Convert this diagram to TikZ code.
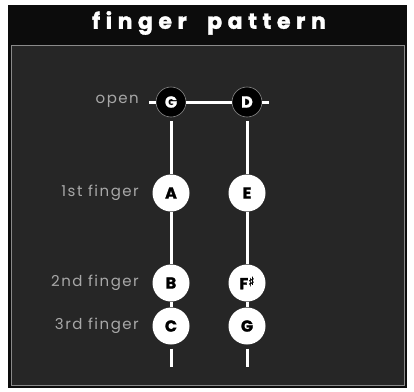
\documentclass[tikz,border=0pt]{standalone}
\usepackage{fontspec}
\setmainfont{Poppins}[BoldFont={Poppins Bold}]
\newfontfamily\titlefont[LetterSpace=25,WordSpace=2.0,FakeBold=1.6]{Poppins Bold}
\newfontfamily\notefont[FakeBold=1.4]{Poppins Bold}
\newfontfamily\labelfont[LetterSpace=10]{Poppins}
\newfontfamily\symfont[FakeBold=1.4]{DejaVu Sans}
\definecolor{bodygray}{HTML}{262626}
\definecolor{titleblack}{HTML}{0C0C0C}
\definecolor{labelgray}{HTML}{A8A8A8}
\definecolor{rimgray}{HTML}{8A8A8A}
\tikzset{
  topnote/.style={circle, fill=black, draw=rimgray, line width=0.6pt, minimum size=30pt, inner sep=0pt, text=white, font=\notefont\fontsize{16}{16}\selectfont},
  note/.style={circle, fill=white, minimum size=37pt, inner sep=0pt, text=black, font=\notefont\fontsize{16}{16}\selectfont},
  stringline/.style={white, line width=3pt},
  lbl/.style={anchor=east, text=labelgray, inner sep=0pt, font=\labelfont\fontsize{15}{15}\selectfont},
}
\begin{document}
\begin{tikzpicture}[x=1pt,y=-1pt]
\useasboundingbox (0,0) rectangle (414,391);
\fill[white] (0,0) rectangle (414,391);
% frame
\fill[titleblack] (8,5) rectangle (407,388);
\fill[bodygray] (11,45) rectangle (404,385);
\draw[rimgray, line width=0.8pt] (11,45) rectangle (404,385);
\node[text=white, font=\titlefont\fontsize{22}{22}\selectfont] (title) at (209,23) {finger pattern};
% labels
\node[lbl] (lopen) at (139,101) {open};
\node[lbl] (l1) at (139,193) {1st finger};
\node[lbl] (l2) at (139,283) {2nd finger};
\node[lbl] (l3) at (139,326) {3rd finger};
% notes
\node[topnote] (G0) at (171,102) {G};
\node[topnote] (D0) at (247,102) {D};
\node[note] (A1) at (171,193) {A};
\node[note] (E1) at (247,193) {E};
\node[note] (B1) at (171,283) {B};
\node[note] (F1) at (247,283) {F\raisebox{3pt}{\symfont\fontsize{13}{13}\selectfont ♯}};
\node[note] (C1) at (171,326) {C};
\node[note] (G1) at (247,326) {G};
\coordinate (dl) at (149,102);
\coordinate (dr) at (269,102);
\coordinate (el) at (171,367);
\coordinate (er) at (247,367);
% strings
\draw[stringline] (dl) -- (G0);
\draw[stringline] (G0) -- (D0);
\draw[stringline] (D0) -- (dr);
\draw[stringline, shorten <=4pt] (G0) -- (A1);
\draw[stringline, shorten <=4pt] (D0) -- (E1);
\draw[stringline] (A1) -- (B1);
\draw[stringline] (E1) -- (F1);
\draw[stringline] (B1) -- (C1);
\draw[stringline] (F1) -- (G1);
\draw[stringline, shorten <=4pt] (C1) -- (el);
\draw[stringline, shorten <=4pt] (G1) -- (er);
\end{tikzpicture}
\end{document}
